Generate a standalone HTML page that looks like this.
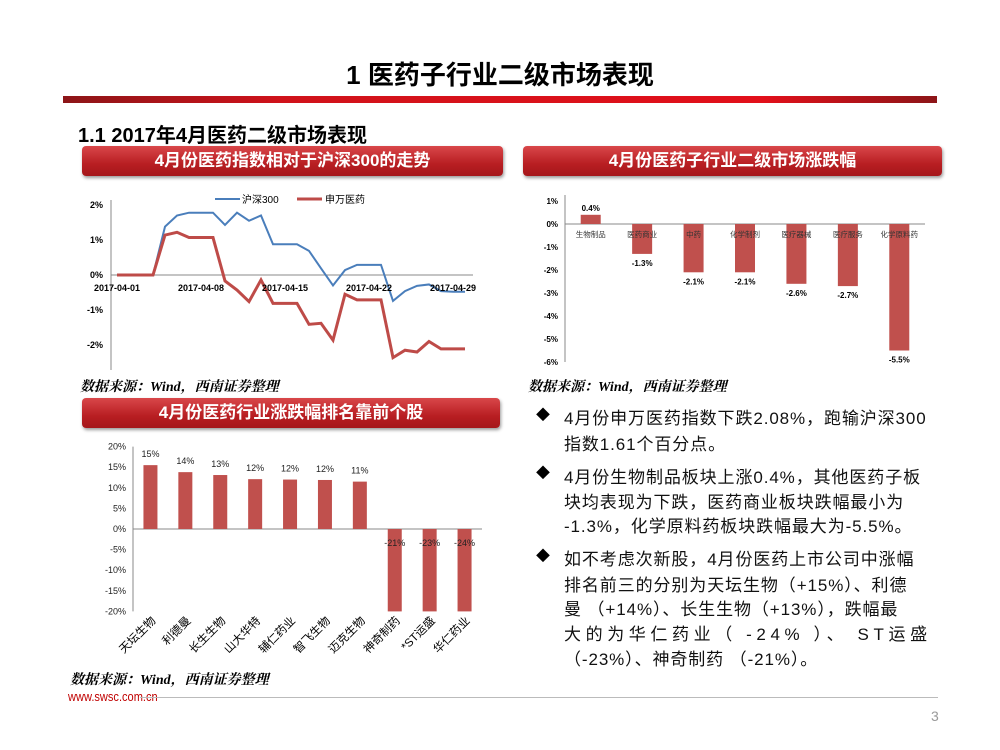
<!DOCTYPE html>
<html><head><meta charset="utf-8"><style>
body{margin:0;width:1000px;height:750px;background:#fff;position:relative;overflow:hidden;font-family:"Liberation Sans","Noto Sans CJK SC",sans-serif;}
.abs{position:absolute;}
.banner{position:absolute;height:30px;border-radius:4px;background:linear-gradient(#d9474a,#b81e22 60%,#a5171b);color:#fff;font-weight:bold;font-size:17px;line-height:30px;text-align:center;box-shadow:1px 2px 3px #999;}
.src{position:absolute;font-style:italic;font-weight:bold;font-size:14px;font-family:"Liberation Serif","Noto Serif CJK SC",serif;}
.ln{position:absolute;left:564px;font-size:17px;letter-spacing:0.9px;color:#111;white-space:nowrap;}
.dia{position:absolute;left:536px;font-size:14px;}
svg text{font-family:"Liberation Sans","Noto Sans CJK SC",sans-serif;}
</style></head><body>
<div class="abs" style="left:0;width:1000px;top:55px;text-align:center;font-size:26px;font-weight:bold;">1 医药子行业二级市场表现</div>
<div class="abs" style="left:63px;top:96px;width:874px;height:7px;background:linear-gradient(90deg,#8c1518,#d0121a 25%,#e2101a 80%,#8c1518);"></div>
<div class="abs" style="left:78px;top:119px;font-size:20px;font-weight:bold;">1.1 2017年4月医药二级市场表现</div>
<div class="banner" style="left:82px;top:146px;width:421px;">4月份医药指数相对于沪深300的走势</div>
<div class="banner" style="left:523px;top:146px;width:419px;">4月份医药子行业二级市场涨跌幅</div>
<div class="banner" style="left:82px;top:398px;width:418px;">4月份医药行业涨跌幅排名靠前个股</div>

<svg class="abs" style="left:0;top:0" width="1000" height="750" id="s1"></svg>
<svg class="abs" style="left:0;top:0" width="1000" height="750" id="s2"></svg>
<svg class="abs" style="left:0;top:0" width="1000" height="750" id="s3"></svg>

<div class="src" style="left:80px;top:376px;">数据来源：Wind，西南证券整理</div>
<div class="src" style="left:528px;top:376px;">数据来源：Wind，西南证券整理</div>
<div class="src" style="left:70px;top:669px;">数据来源：Wind，西南证券整理</div>

<div>
<div class="dia" style="top:405px">◆</div>
<div class="ln" style="top:404px">4月份申万医药指数下跌2.08%，跑输沪深300</div>
<div class="ln" style="top:430px">指数1.61个百分点。</div>
<div class="dia" style="top:463px">◆</div>
<div class="ln" style="top:463px">4月份生物制品板块上涨0.4%，其他医药子板</div>
<div class="ln" style="top:488px">块均表现为下跌，医药商业板块跌幅最小为</div>
<div class="ln" style="top:512px">-1.3%，化学原料药板块跌幅最大为-5.5%。</div>
<div class="dia" style="top:546px">◆</div>
<div class="ln" style="top:545px">如不考虑次新股，4月份医药上市公司中涨幅</div>
<div class="ln" style="top:571px">排名前三的分别为天坛生物（+15%）、利德</div>
<div class="ln" style="top:595px">曼 （+14%）、长生生物（+13%），跌幅最</div>
<div class="ln" style="top:620px;letter-spacing:4.6px">大的为华仁药业（ -24% ）、 ST运盛</div>
<div class="ln" style="top:645px">（-23%）、神奇制药 （-21%）。</div>
</div>

<div class="abs" style="left:68px;top:689px;font-size:13px;color:#c00000;transform:scaleX(0.85);transform-origin:left top;">www.swsc.com.cn</div>
<div class="abs" style="left:140px;top:697px;width:798px;height:1px;background:#bbb;"></div>
<div class="abs" style="left:931px;top:708px;font-size:14px;color:#999;">3</div>

<script>
const NS='http://www.w3.org/2000/svg';
function mk(p,t,a,txt){const e=document.createElementNS(NS,t);for(const k in a)e.setAttribute(k,a[k]);if(txt!==undefined)e.textContent=txt;p.appendChild(e);return e;}

// Chart 1 data
const trendDays=[0,1,2,3,4,5,6,7,8,9,10,11,12,13,14,15,16,17,18,19,20,21,22,23,24,25,26,27,28,29];
const hs300=[0,0,0,0,1.38,1.7,1.78,1.78,1.78,1.43,1.78,1.55,1.7,0.88,0.88,0.88,0.69,0.19,-0.3,0.14,0.29,0.29,0.29,-0.74,-0.46,-0.31,-0.27,-0.46,-0.48,-0.48];
const swMed=[0,0,0,0,1.14,1.22,1.07,1.07,1.07,-0.17,-0.43,-0.76,-0.14,-0.81,-0.81,-0.81,-1.41,-1.38,-1.86,-0.55,-0.71,-0.71,-0.71,-2.36,-2.15,-2.2,-1.9,-2.11,-2.11,-2.11];
const trendYTicks=[2,1,0,-1,-2];
const trendXLabels=['2017-04-01','2017-04-08','2017-04-15','2017-04-22','2017-04-29'];
const trendXLabelDays=[0,7,14,21,28];

// Chart 2 data
const subCats=['生物制品','医药商业','中药','化学制剂','医疗器械','医疗服务','化学原料药'];
const subVals=[0.4,-1.3,-2.1,-2.1,-2.6,-2.7,-5.5];
const subYTicks=[1,0,-1,-2,-3,-4,-5,-6];

// Chart 3 data
const stockCats=['天坛生物','利德曼','长生生物','山大华特','辅仁药业','智飞生物','迈克生物','神奇制药','*ST运盛','华仁药业'];
const stockVals=[15.5,13.8,13.1,12.1,12.0,11.9,11.5,-21,-23,-24];
const stockLabels=['15%','14%','13%','12%','12%','12%','11%','-21%','-23%','-24%'];
const stockYTicks=[20,15,10,5,0,-5,-10,-15,-20];

// ---- chart 1
(function(){
const s=document.getElementById('s1');
const x=d=>117+d*12.0, y=v=>275-v*35;
mk(s,'line',{x1:111,y1:200,x2:111,y2:370,stroke:'#888','stroke-width':1});
mk(s,'line',{x1:111,y1:y(0),x2:473,y2:y(0),stroke:'#888','stroke-width':1});
trendYTicks.forEach(v=>{const t=mk(s,'text',{x:103,y:y(v)+3,'text-anchor':'end','font-size':9,'font-weight':'bold'},v+'%');
});
const pts=a=>a.map((v,i)=>x(trendDays[i])+','+y(v)).join(' ');
const l1=mk(s,'polyline',{points:pts(hs300),fill:'none',stroke:'#4a7ebb','stroke-width':2});

const l2=mk(s,'polyline',{points:pts(swMed),fill:'none',stroke:'#be4b48','stroke-width':3});

trendXLabels.forEach((lb,i)=>{const t=mk(s,'text',{x:x(trendXLabelDays[i]),y:y(0)+16,'text-anchor':'middle','font-size':9,'font-weight':'bold'},lb);
});
const g=mk(s,'g',{});
mk(g,'line',{x1:215,y1:199,x2:240,y2:199,stroke:'#4a7ebb','stroke-width':2});
mk(g,'text',{x:242,y:203,'font-size':10},'沪深300');
mk(g,'line',{x1:297,y1:199,x2:322,y2:199,stroke:'#be4b48','stroke-width':3});
mk(g,'text',{x:325,y:203,'font-size':10},'申万医药');
})();

// ---- chart 2
(function(){
const s=document.getElementById('s2');
const y=v=>224-v*23, x0=565, bw=360/subCats.length;
mk(s,'line',{x1:x0,y1:195,x2:x0,y2:y(-6),stroke:'#888'});
mk(s,'line',{x1:x0,y1:y(0),x2:925,y2:y(0),stroke:'#888'});
subYTicks.forEach(v=>{const t=mk(s,'text',{x:x0-7,y:y(v)+3,'text-anchor':'end','font-size':8,'font-weight':'bold'},v+'%');
});
subVals.forEach((v,i)=>{const cx=x0+bw*(i+0.5);
const r=mk(s,'rect',{x:cx-10,y:Math.min(y(v),y(0)),width:20,height:Math.abs(y(v)-y(0)),fill:'#c0504d'});

const t=mk(s,'text',{x:cx,y:v>=0?y(v)-4:y(v)+12,'text-anchor':'middle','font-size':8,'font-weight':'bold'},v.toFixed(1)+'%');

const c=mk(s,'text',{x:cx,y:y(0)+13,'text-anchor':'middle','font-size':7.5,fill:'#333'},subCats[i]);
});
})();

// ---- chart 3
(function(){
const s=document.getElementById('s3');
const y=v=>529-v*4.12, x0=133, bw=349/stockCats.length;
mk(s,'line',{x1:x0,y1:y(20),x2:x0,y2:y(-20),stroke:'#888'});
mk(s,'line',{x1:x0,y1:y(0),x2:482,y2:y(0),stroke:'#888'});
stockYTicks.forEach(v=>{const t=mk(s,'text',{x:x0-7,y:y(v)+3,'text-anchor':'end','font-size':9,fill:'#222'},v+'%');
});
stockVals.forEach((v,i)=>{const cx=x0+bw*(i+0.5);const vv=Math.max(v,-20);
const r=mk(s,'rect',{x:cx-7,y:Math.min(y(vv),y(0)),width:14,height:Math.abs(y(vv)-y(0)),fill:'#c0504d'});

const t=mk(s,'text',{x:cx,y:v>=0?y(v)-8:y(0)+17,'text-anchor':'middle','font-size':9,fill:'#222'},stockLabels[i]);

const c=mk(s,'text',{x:cx+6,y:y(-20)+10,'text-anchor':'end','font-size':11.5,transform:'rotate(-45 '+(cx+6)+' '+(y(-20)+10)+')'},stockCats[i]);
});
})();
</script>
</body></html>
